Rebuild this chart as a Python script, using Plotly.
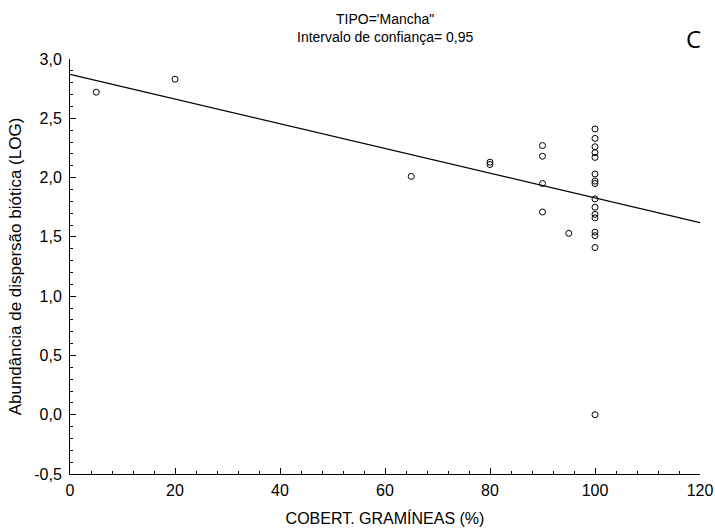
import plotly.graph_objects as go

# Data
cobert_x = [5, 20, 65, 80, 80, 90, 90, 90, 90, 95,
            100, 100, 100, 100, 100, 100, 100, 100, 100, 100,
            100, 100, 100, 100, 100, 100]
abund_y = [2.72, 2.83, 2.01, 2.13, 2.11, 2.27, 2.18, 1.95, 1.71, 1.53,
           2.41, 2.33, 2.26, 2.21, 2.17, 2.03, 1.97, 1.95, 1.82, 1.75,
           1.69, 1.66, 1.54, 1.51, 1.41, 0.00]

fit_x = [0, 120]
fit_y = [2.87, 1.62]

x_tickvals = [0, 20, 40, 60, 80, 100, 120]
x_ticktext = ["0", "20", "40", "60", "80", "100", "120"]
y_tickvals = [-0.5, 0.0, 0.5, 1.0, 1.5, 2.0, 2.5, 3.0]
y_ticktext = ["-0,5", "0,0", "0,5", "1,0", "1,5", "2,0", "2,5", "3,0"]

FONT = "Liberation Sans, Arial, sans-serif"

fig = go.Figure()
fig.add_trace(go.Scatter(
    x=fit_x, y=fit_y, mode="lines",
    line=dict(color="black", width=1.2),
    showlegend=False, hoverinfo="skip"))
fig.add_trace(go.Scatter(
    x=cobert_x, y=abund_y, mode="markers",
    marker=dict(symbol="circle-open", size=6, color="black",
                line=dict(color="black", width=1)),
    showlegend=False))

axis_common = dict(
    showgrid=False, zeroline=False, showline=True, linecolor="black",
    linewidth=1, mirror=False, ticks="inside", ticklen=6, tickcolor="black",
    tickwidth=1, tickfont=dict(family=FONT, size=16, color="black"),
    automargin=False,
)

fig.update_xaxes(
    range=[0, 120], tickmode="array", tickvals=x_tickvals, ticktext=x_ticktext,
    minor=dict(ticks="inside", ticklen=3, dtick=4, tickcolor="black", showgrid=False),
    ticklabelstandoff=2,
    title=dict(text="COBERT. GRAMÍNEAS (%)", font=dict(family=FONT, size=16, color="black"),
               standoff=14),
    **axis_common)
fig.update_yaxes(
    range=[-0.5, 3.0], tickmode="array", tickvals=y_tickvals, ticktext=y_ticktext,
    minor=dict(ticks="inside", ticklen=3, dtick=0.1, tick0=0, tickcolor="black", showgrid=False),
    ticklabelstandoff=4,
    title=dict(text="Abundância de dispersão biótica (LOG)",
               font=dict(family=FONT, size=17, color="black"), standoff=8),
    **axis_common)

fig.update_layout(
    width=715, height=530,
    margin=dict(l=70, r=15, t=59, b=56),
    plot_bgcolor="white", paper_bgcolor="white",
    font=dict(family=FONT, color="black"),
    annotations=[
        dict(text="TIPO='Mancha\"<br>Intervalo de confiança= 0,95",
             xref="paper", yref="paper", x=0.5, y=1.0, yshift=12,
             xanchor="center", yanchor="bottom", showarrow=False,
             font=dict(family=FONT, size=14, color="black")),
        dict(text="C", xref="paper", yref="paper", x=0.99, y=1.0, yshift=2,
             xanchor="center", yanchor="bottom", showarrow=False,
             font=dict(family="Open Sans, sans-serif", size=24, color="black")),
    ],
)

fig.write_html("out.html")
